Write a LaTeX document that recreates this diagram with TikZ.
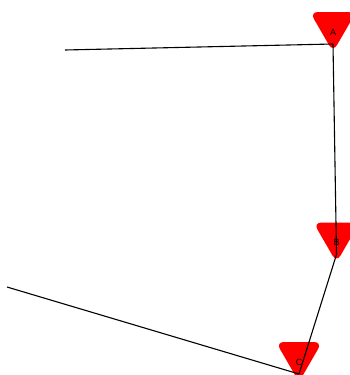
\documentclass[tikz,border=0pt]{standalone}
\usepackage{fontspec}
\setmainfont{Liberation Sans}
\newcommand\mktri[4]{% name, x, ytop, label
  \fill[trishape] ({#2-23.1},#3) -- ({#2+23.1},#3) -- (#2,{#3+40}) -- cycle;
  \node[lbl] (#1) at (#2,{#3+20}) {#4};
  \coordinate (#1tip) at (#2,{#3+32});
}
\begin{document}
\begin{tikzpicture}[x=1pt,y=-1pt,
  lbl/.style={font=\fontsize{9}{10}\selectfont, inner sep=0pt},
  trishape/.style={fill=red, rounded corners=8pt},
  link/.style={line width=1.1pt, draw=black}]
\useasboundingbox (0,0) rectangle (349,375);
\mktri{A}{333}{12}{A}
\mktri{B}{336.5}{222.5}{B}
\mktri{C}{299}{342}{C}
\coordinate (p1) at (65,50);
\coordinate (p2) at (7,287);
\draw[link] (p1) -- (Atip);
\draw[link] (Atip) -- (Btip);
\draw[link] (Btip) -- (Ctip);
\draw[link] (p2) -- (Ctip);
\end{tikzpicture}
\end{document}
